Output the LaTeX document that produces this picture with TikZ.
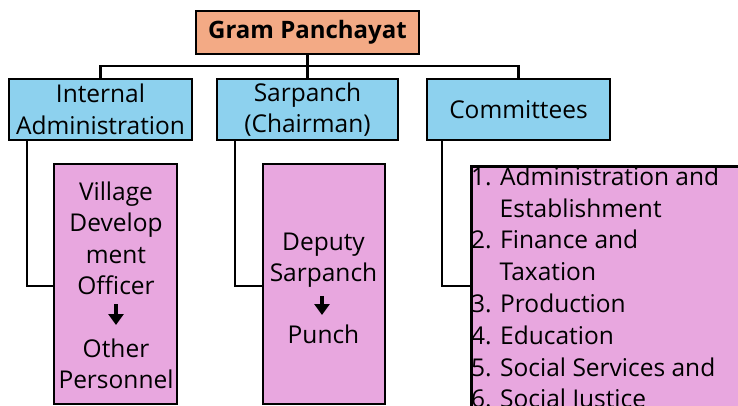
\documentclass[tikz,border=0pt]{standalone}
\usepackage{fontspec}
\setmainfont{Open Sans}
\usetikzlibrary{arrows.meta,calc}
\definecolor{gporange}{HTML}{F3AA85}
\definecolor{boxblue}{HTML}{8DD1EE}
\definecolor{boxpink}{HTML}{E8A7DF}
\newcommand\boxfont{\fontsize{24.5}{31.5}\selectfont}
\newcommand\listfont{\fontsize{24.5}{31.8}\selectfont}
\newcommand\gpfont{\fontsize{24}{28}\bfseries\selectfont}
\begin{document}
\begin{tikzpicture}[x=1pt,y=-1pt,
  box/.style={draw=black,line width=2.6pt,inner sep=0pt,align=center,font=\boxfont},
  pinkbox/.style={draw=black,line width=2.6pt,inner sep=0pt,fill=boxpink},
  txt/.style={inner sep=0pt,align=center,font=\boxfont},
  conn/.style={draw=black,line width=2.2pt},
  downarrow/.style={draw=black,line width=3.4pt,-{Triangle[width=15pt,length=11pt]}}]
\useasboundingbox (0,0) rectangle (738,406);
\clip (0,0) rectangle (738,406);
% top level
\node[box,fill=gporange,minimum width=223pt,minimum height=43pt,font=\gpfont] (gp) at (307.5,32.5) {Gram Panchayat};
\node[box,fill=boxblue,minimum width=183pt,minimum height=61pt] (ia) at (100.5,109.5) {Internal\\Administration};
\node[box,fill=boxblue,minimum width=181pt,minimum height=61pt] (sp) at (307.5,109.5) {Sarpanch\\(Chairman)};
\node[box,fill=boxblue,minimum width=183pt,minimum height=61pt] (cm) at (518.5,109.5) {Committees};
% pink boxes
\node[pinkbox,minimum width=123pt,minimum height=240pt] (vbox) at (115.5,284) {};
\node[pinkbox,minimum width=122pt,minimum height=240pt] (dbox) at (324,284) {};
\node[pinkbox,anchor=north west,minimum width=290pt,minimum height=260pt] (lbox) at (470,165) {};
% texts
\node[txt,anchor=north] (vdo) at (116,181.4) {Village\\Develop\\ment\\Officer};
\node[txt,anchor=north] (op) at (116,338.4) {Other\\Personnel};
\node[txt,anchor=north] (dep) at (323.5,232.5) {Deputy\\Sarpanch};
\node[txt,anchor=north] (pun) at (323.5,324.4) {Punch};
\node[txt,anchor=north west,align=left,font=\listfont] (list) at (471,166.4) {1. Administration and\\\hspace*{28.5pt}Establishment\\2. Finance and\\\hspace*{28.5pt}Taxation\\3. Production\\4. Education\\5. Social Services and\\6. Social Justice};
% arrows
\coordinate (va) at (116,304);
\coordinate (vb) at (116,325);
\coordinate (da) at (322,296);
\coordinate (db) at (322,315);
\draw[downarrow] (vdo.south |- va) -- (op.north |- vb);
\draw[downarrow] (da) -- (db);
% connectors
\coordinate (hb) at (307.5,66);
\coordinate (vy) at (0,286);
\draw[conn] (gp.south) -- (hb);
\draw[conn] (hb) -| (ia.north);
\draw[conn] (hb) -| (cm.north);
\draw[conn] (hb) -- (sp.north);
\draw[conn] ([xshift=19pt]ia.south west) |- (vbox.west |- vy);
\draw[conn] ([xshift=19.5pt]sp.south west) |- (dbox.west |- vy);
\draw[conn] ([xshift=16pt]cm.south west) |- (lbox.west |- vy);
\end{tikzpicture}
\end{document}
